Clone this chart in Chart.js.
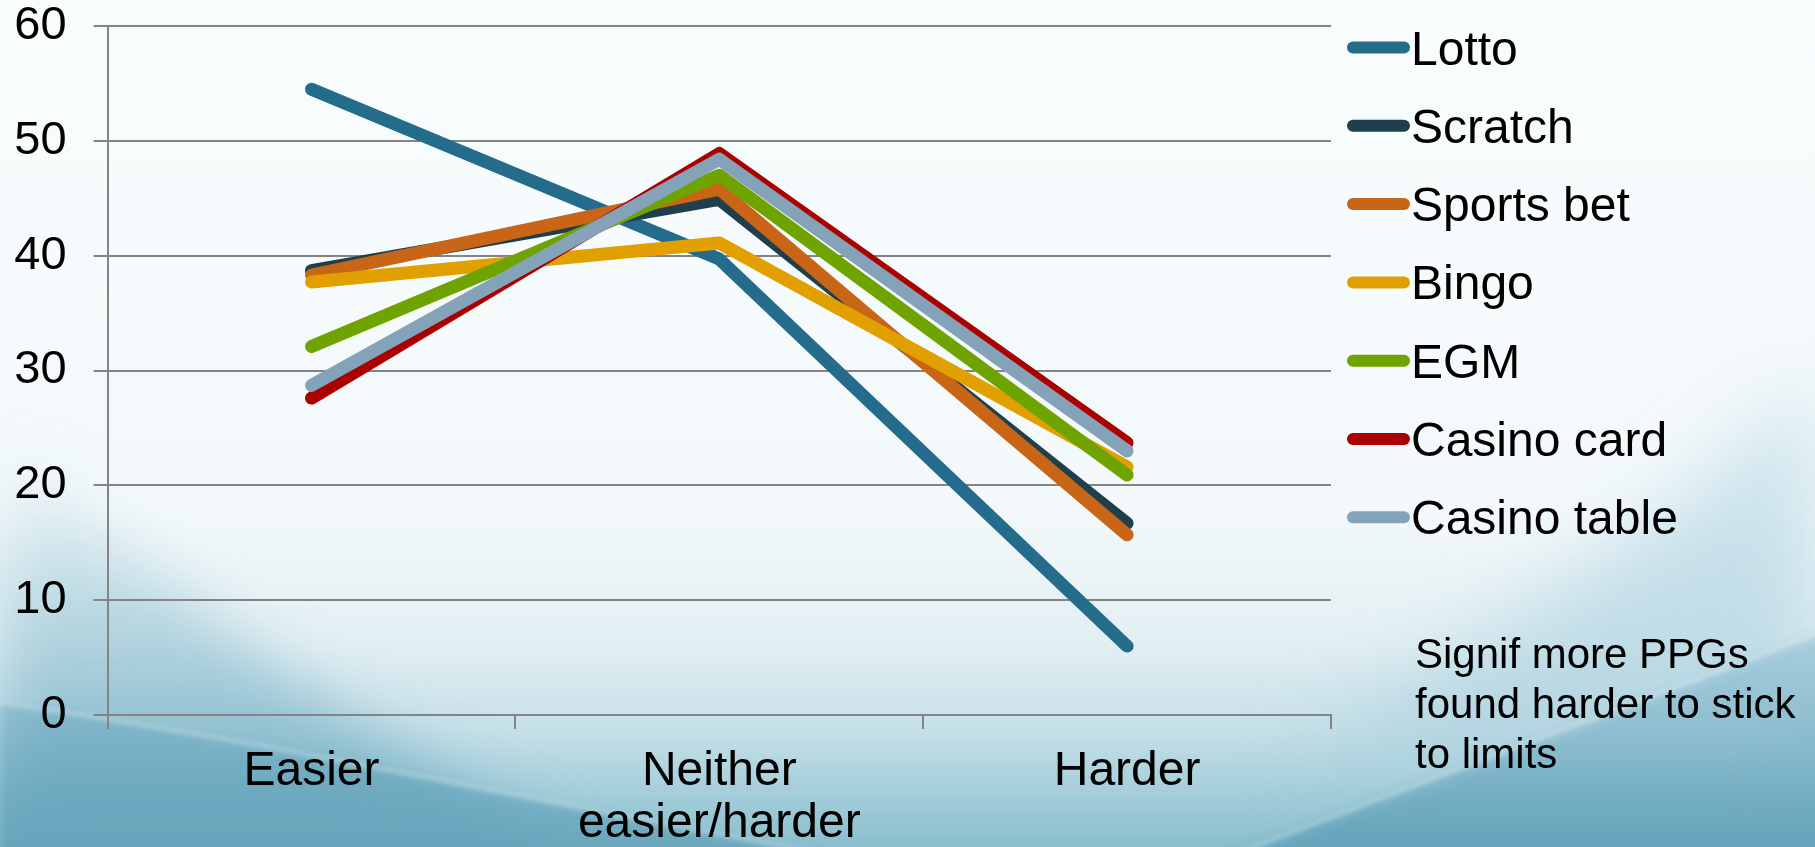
<!DOCTYPE html>
<html>
<head>
<meta charset="utf-8">
<script src="https://cdn.jsdelivr.net/npm/chart.js@4.4.1/dist/chart.umd.min.js"></script>
<style>
  html, body { margin: 0; padding: 0; overflow: hidden; background: #f7fbfc; }
  #wrap { position: relative; width: 1815px; height: 847px; }
</style>
</head>
<body>
<div id="wrap"><canvas id="c"></canvas></div>
<script>
// Categories (x axis)
const categories = ['Easier', ['Neither', 'easier/harder'], 'Harder'];

// Series values (%)
const lotto       = [54.5, 39.7, 6.0];
const scratch     = [38.7, 44.9, 16.7];
const sportsBet   = [38.3, 45.8, 15.7];
const bingo       = [37.7, 41.1, 21.6];
const egm         = [32.1, 47.0, 20.9];
const casinoCard  = [27.6, 48.9, 23.7];
const casinoTable = [28.7, 48.4, 23.0];

const seriesNames  = ['Lotto', 'Scratch', 'Sports bet', 'Bingo', 'EGM', 'Casino card', 'Casino table'];
const seriesValues = [lotto, scratch, sportsBet, bingo, egm, casinoCard, casinoTable];
const seriesColors = ['#246b8c', '#1f3f4c', '#c96516', '#e29f00', '#6fa300', '#aa0000', '#84a3b8'];

// Y axis ticks
const yMin = 0, yMax = 60, yStep = 10;

// Side note
const noteLines = ['Signif more PPGs', 'found harder to stick', 'to limits'];

const FONT = '"Liberation Sans", Arial, sans-serif';
Chart.defaults.font.family = FONT;
Chart.defaults.color = '#000';

const GRID = '#848484';

// Slide-style backdrop: pale top, teal sweep along the bottom
const backdrop = {
  id: 'backdrop',
  beforeDraw(chart) {
    const { ctx, width: w, height: h } = chart;
    ctx.save();
    const g = ctx.createLinearGradient(0, 0, 0, h);
    g.addColorStop(0, '#f8fcfd');
    g.addColorStop(0.6, '#f3f9fb');
    g.addColorStop(0.76, '#e2eff3');
    g.addColorStop(0.86, '#c6e0e8');
    g.addColorStop(0.94, '#a2cdd9');
    g.addColorStop(1, '#89becd');
    ctx.fillStyle = g;
    ctx.fillRect(0, 0, w, h);

    // lower-left swell, bounded by a soft arc
    ctx.save();
    ctx.beginPath();
    ctx.moveTo(0, 420);
    ctx.bezierCurveTo(120, 560, 300, 700, 560, 847);
    ctx.lineTo(0, 847);
    ctx.closePath();
    ctx.filter = 'blur(30px)';
    let lg = ctx.createLinearGradient(0, 450, 0, 847);
    lg.addColorStop(0, 'rgba(150,196,212,0.0)');
    lg.addColorStop(0.45, 'rgba(140,190,207,0.55)');
    lg.addColorStop(1, 'rgba(100,164,188,0.8)');
    ctx.fillStyle = lg;
    ctx.fill();
    ctx.restore();

    // band below the left light streak
    ctx.save();
    ctx.beginPath();
    ctx.moveTo(0, 703);
    ctx.bezierCurveTo(250, 740, 520, 800, 900, 870);
    ctx.lineTo(0, 870);
    ctx.closePath();
    ctx.filter = 'blur(4px)';
    lg = ctx.createLinearGradient(0, 700, 0, 847);
    lg.addColorStop(0, 'rgba(110,170,192,0.45)');
    lg.addColorStop(1, 'rgba(96,160,184,0.75)');
    ctx.fillStyle = lg;
    ctx.fill();
    ctx.restore();

    // lower-right swell
    ctx.save();
    ctx.beginPath();
    ctx.moveTo(1200, 870);
    ctx.bezierCurveTo(1400, 790, 1600, 720, 1830, 630);
    ctx.lineTo(1830, 870);
    ctx.closePath();
    ctx.filter = 'blur(6px)';
    lg = ctx.createLinearGradient(0, 640, 0, 847);
    lg.addColorStop(0, 'rgba(110,170,192,0.45)');
    lg.addColorStop(1, 'rgba(96,160,184,0.85)');
    ctx.fillStyle = lg;
    ctx.fill();
    ctx.restore();

    ctx.save();
    ctx.beginPath();
    ctx.moveTo(1815, 380);
    ctx.bezierCurveTo(1700, 500, 1550, 600, 1300, 760);
    ctx.lineTo(1815, 760);
    ctx.closePath();
    ctx.filter = 'blur(40px)';
    ctx.fillStyle = 'rgba(150,198,214,0.45)';
    ctx.fill();
    ctx.restore();

    // faint light streaks
    ctx.filter = 'blur(2px)';
    ctx.strokeStyle = 'rgba(255,255,255,0.25)';
    ctx.lineWidth = 4;
    ctx.beginPath();
    ctx.moveTo(-10, 701);
    ctx.bezierCurveTo(250, 738, 520, 798, 900, 868);
    ctx.stroke();
    ctx.beginPath();
    ctx.moveTo(1200, 868);
    ctx.bezierCurveTo(1400, 788, 1600, 718, 1830, 628);
    ctx.stroke();
    ctx.filter = 'none';
    ctx.restore();
  }
};

// Legend column and side note on the right
const sidePanel = {
  id: 'sidePanel',
  afterDraw(chart) {
    const ctx = chart.ctx;
    ctx.save();
    chart.data.datasets.forEach((ds, i) => {
      const y = 47.5 + i * 78.3;
      ctx.strokeStyle = ds.borderColor;
      ctx.lineWidth = 12;
      ctx.lineCap = 'round';
      ctx.beginPath();
      ctx.moveTo(1353, y);
      ctx.lineTo(1404, y);
      ctx.stroke();
      ctx.fillStyle = '#000';
      ctx.font = '48px ' + FONT;
      ctx.textBaseline = 'alphabetic';
      ctx.textAlign = 'left';
      ctx.fillText(ds.label, 1411, y + 17);
    });
    ctx.font = '42px ' + FONT;
    noteLines.forEach((t, i) => ctx.fillText(t, 1415, 668 + i * 50));
    ctx.restore();
  }
};

const datasets = seriesNames.map((name, i) => ({
  label: name,
  data: seriesValues[i],
  borderColor: seriesColors[i],
  backgroundColor: seriesColors[i],
  borderWidth: 13,
  borderCapStyle: 'round',
  borderJoinStyle: 'round',
  pointRadius: 0,
  pointHoverRadius: 0,
  tension: 0,
  fill: false,
  order: -i
}));

new Chart(document.getElementById('c'), {
  type: 'line',
  data: { labels: categories, datasets },
  plugins: [backdrop, sidePanel],
  options: {
    responsive: true,
    maintainAspectRatio: false,
    animation: false,
    events: [],
    layout: { autoPadding: false, padding: { top: 26, right: 484, bottom: 0, left: 0 } },
    plugins: { legend: { display: false }, tooltip: { enabled: false } },
    scales: {
      x: {
        type: 'category',
        offset: true,
        grid: { display: true, offset: true, drawOnChartArea: false, drawTicks: true, tickLength: 14, color: GRID, lineWidth: 2 },
        border: { display: true, color: GRID, width: 2 },
        ticks: { font: { size: 48, lineHeight: 1.1 }, color: '#000', padding: 16, maxRotation: 0, autoSkip: false },
        afterFit(s) { s.height = 132; s.paddingLeft = 0; s.paddingRight = 0; }
      },
      y: {
        min: yMin,
        max: yMax,
        ticks: { stepSize: yStep, font: { size: 47, lineHeight: 1.1 }, color: '#000', padding: 27 },
        grid: { color: GRID, lineWidth: 2, tickLength: 14, drawTicks: true },
        border: { display: true, color: GRID, width: 2 },
        afterFit(s) { s.width = 107.6; s.paddingTop = 0; s.paddingBottom = 0; }
      }
    }
  }
});
</script>
</body>
</html>
